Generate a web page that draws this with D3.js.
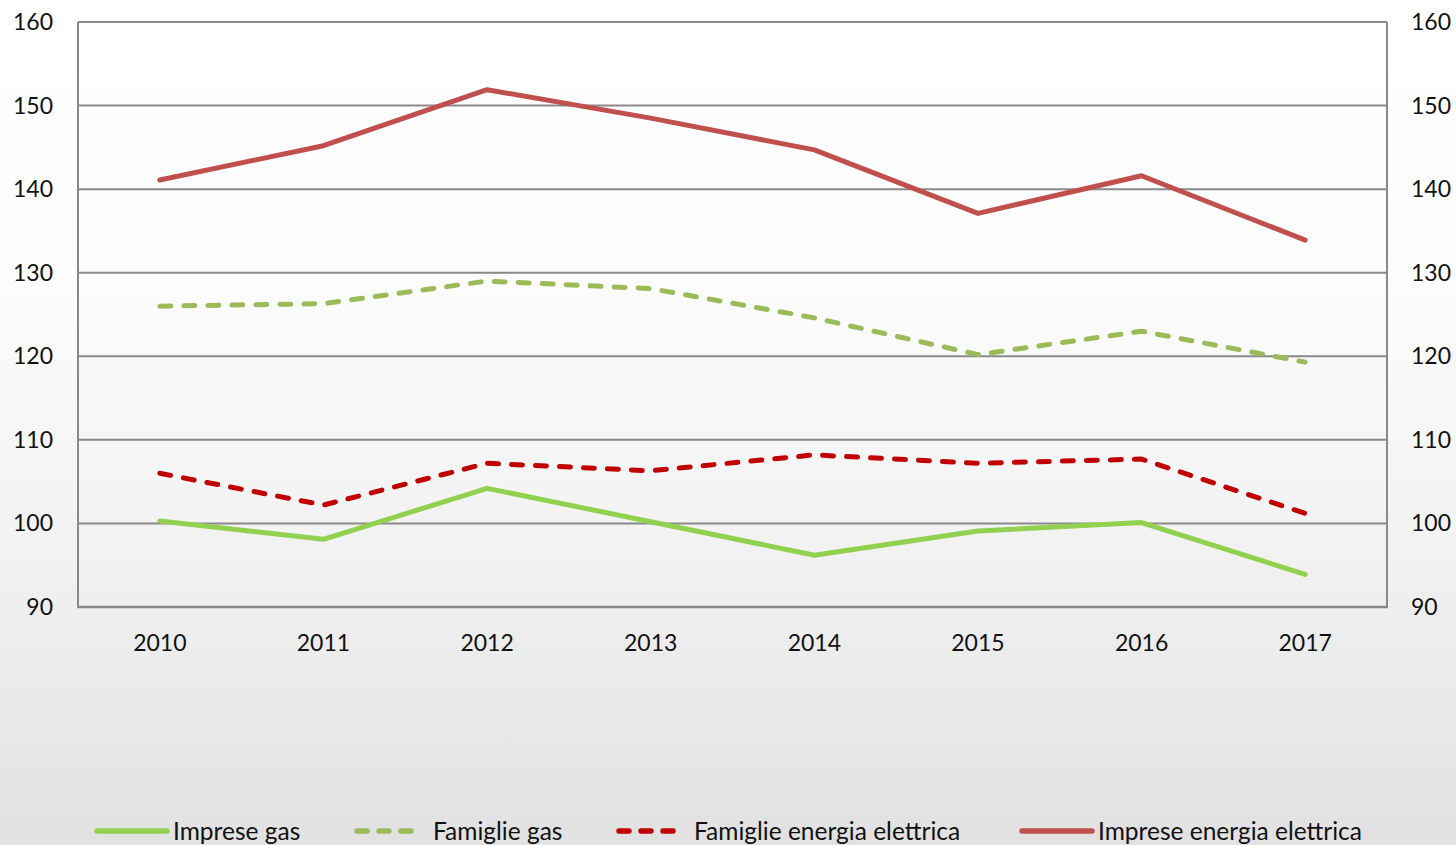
<!DOCTYPE html>
<html>
<head>
<meta charset="utf-8">
<script src="https://cdn.jsdelivr.net/npm/d3@7"></script>
<style>
  html, body { margin: 0; padding: 0; }
  body { width: 1456px; height: 845px; overflow: hidden; }
  text { font-family: Lato, "Open Sans", sans-serif; fill: #111; }
</style>
</head>
<body>
<div id="chart"></div>
<script>
const years = ["2010", "2011", "2012", "2013", "2014", "2015", "2016", "2017"];
const impreseGas = [100.3, 98.1, 104.2, 100.2, 96.2, 99.1, 100.1, 93.9];
const famiglieGas = [126.0, 126.3, 129.0, 128.1, 124.6, 120.2, 123.0, 119.3];
const famiglieEnergia = [106.0, 102.2, 107.2, 106.3, 108.2, 107.2, 107.7, 101.2];
const impreseEnergia = [141.1, 145.2, 151.9, 148.5, 144.7, 137.1, 141.6, 133.9];
const yTicks = [90, 100, 110, 120, 130, 140, 150, 160];

const series = [
    { name: "Imprese gas", values: impreseGas, color: "#92D050", dash: null },
    { name: "Famiglie gas", values: famiglieGas, color: "#9BBB59", dash: "11,13" },
    { name: "Famiglie energia elettrica", values: famiglieEnergia, color: "#C00000", dash: "11,13" },
    { name: "Imprese energia elettrica", values: impreseEnergia, color: "#C0504D", dash: null }
];

const width = 1456;
const height = 845;
const plot = { left: 78, right: 1387, top: 22, bottom: 607 };

const svg = d3.select("#chart").append("svg")
    .attr("width", width)
    .attr("height", height);

const defs = svg.append("defs");
const grad = defs.append("linearGradient")
    .attr("id", "bg")
    .attr("x1", 0).attr("y1", 0).attr("x2", 0).attr("y2", 1);
grad.append("stop").attr("offset", "0%").attr("stop-color", "#ffffff");
grad.append("stop").attr("offset", "30%").attr("stop-color", "#fdfdfd");
grad.append("stop").attr("offset", "65%").attr("stop-color", "#f2f2f2");
grad.append("stop").attr("offset", "100%").attr("stop-color", "#e1e1e1");

svg.append("rect")
    .attr("width", width)
    .attr("height", height)
    .attr("fill", "url(#bg)");

const x = d3.scaleBand()
    .domain(years)
    .range([plot.left, plot.right]);

const y = d3.scaleLinear()
    .domain([90, 160])
    .range([plot.bottom, plot.top]);

// gridlines
svg.append("g")
    .selectAll("line")
    .data(yTicks)
    .join("line")
    .attr("x1", plot.left)
    .attr("x2", plot.right)
    .attr("y1", d => y(d))
    .attr("y2", d => y(d))
    .attr("stroke", "#898989")
    .attr("stroke-width", 2);

// frame sides
svg.append("g")
    .selectAll("line")
    .data([plot.left, plot.right])
    .join("line")
    .attr("x1", d => d)
    .attr("x2", d => d)
    .attr("y1", plot.top)
    .attr("y2", plot.bottom)
    .attr("stroke", "#898989")
    .attr("stroke-width", 2);

svg.append("line")
    .attr("x1", plot.left - 1)
    .attr("x2", plot.right + 1)
    .attr("y1", plot.bottom)
    .attr("y2", plot.bottom)
    .attr("stroke", "#898989")
    .attr("stroke-width", 2.5);

// y labels, left and right
svg.append("g")
    .selectAll("text")
    .data(yTicks)
    .join("text")
    .attr("x", 53)
    .attr("y", d => y(d))
    .attr("dy", "0.35em")
    .attr("text-anchor", "end")
    .attr("font-size", 23)
    .text(d => d);

svg.append("g")
    .selectAll("text")
    .data(yTicks)
    .join("text")
    .attr("x", 1411)
    .attr("y", d => y(d))
    .attr("dy", "0.35em")
    .attr("text-anchor", "start")
    .attr("font-size", 23)
    .text(d => d);

// x labels
svg.append("g")
    .selectAll("text")
    .data(years)
    .join("text")
    .attr("x", d => x(d) + x.bandwidth() / 2)
    .attr("y", 643)
    .attr("dy", "0.35em")
    .attr("text-anchor", "middle")
    .attr("font-size", 23)
    .text(d => d);

const line = d3.line()
    .x((d, i) => x(years[i]) + x.bandwidth() / 2)
    .y(d => y(d));

svg.append("g")
    .selectAll("path")
    .data(series)
    .join("path")
    .attr("d", d => line(d.values))
    .attr("fill", "none")
    .attr("stroke", d => d.color)
    .attr("stroke-width", 5)
    .attr("stroke-linecap", "round")
    .attr("stroke-linejoin", "round")
    .attr("stroke-dasharray", d => d.dash);

// legend
const legendItems = [
    { x0: 97, x1: 167, tx: 173 },
    { x0: 357, x1: 420, tx: 433 },
    { x0: 619, x1: 682, tx: 694 },
    { x0: 1022, x1: 1092, tx: 1098 }
];
const legendY = 831;

const legend = svg.append("g")
    .selectAll("g")
    .data(series)
    .join("g");

legend.append("line")
    .attr("x1", (d, i) => legendItems[i].x0)
    .attr("x2", (d, i) => legendItems[i].x1)
    .attr("y1", legendY)
    .attr("y2", legendY)
    .attr("stroke", d => d.color)
    .attr("stroke-width", 5.5)
    .attr("stroke-linecap", "round")
    .attr("stroke-dasharray", d => d.dash ? "10,12" : null);

legend.append("text")
    .attr("x", (d, i) => legendItems[i].tx)
    .attr("y", legendY)
    .attr("dy", "0.35em")
    .attr("font-size", 24.5)
    .text(d => d.name);
</script>
</body>
</html>
